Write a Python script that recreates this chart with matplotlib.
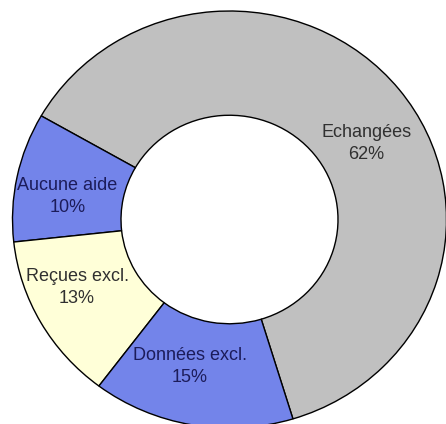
import numpy as np
import matplotlib
matplotlib.use("Agg")
import matplotlib.pyplot as plt

# Répartition de l'aide
labels = ["Echangées", "Aucune aide", "Reçues excl.", "Données excl."]
values = [62, 10, 13, 15]
colors = ["#c0c0c0", "#7384ea", "#ffffd8", "#7384ea"]
text_colors = ["#303030", "#1c1c5a", "#303030", "#1c1c5a"]

# emplacement des étiquettes (angle en degrés, rayon)
label_pos = [(30, 0.73), (171.5, 0.755), (205, 0.775), (255.5, 0.73)]

plt.rcParams["font.family"] = ["Liberation Sans", "DejaVu Sans"]

fig = plt.figure(figsize=(4.46, 4.24), dpi=100)
ax = fig.add_axes([0, 0, 1, 1])

wedges, _ = ax.pie(values, colors=colors, startangle=-73, counterclock=True,
                   radius=1.0,
                   wedgeprops=dict(width=0.5, edgecolor="black", linewidth=1.0))

for lab, v, (ang, r), tc in zip(labels, values, label_pos, text_colors):
    t = np.deg2rad(ang)
    ax.text(r * np.cos(t), r * np.sin(t), f"{lab}\n{v}%", ha="center", va="center",
            fontsize=13, color=tc, linespacing=1.4)

# le disque est un peu étiré en largeur et déborde en bas à droite
ax.set_aspect("auto")
ax.set_xlim(-1.0576, 0.9977)
ax.set_ylim(-0.9808, 1.0528)
ax.axis("off")

fig.savefig("out.png", dpi=100, facecolor="white")
